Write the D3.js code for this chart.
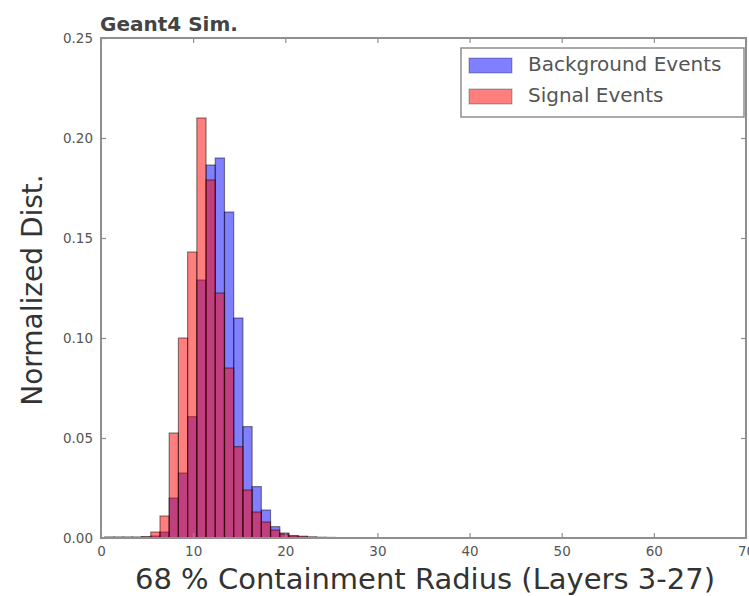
<!DOCTYPE html>
<html>
<head>
<meta charset="utf-8">
<script src="https://cdn.jsdelivr.net/npm/d3@7"></script>
<style>
  body { margin: 0; background: #fff; }
  svg { display: block; }
  text { font-family: "DejaVu Sans", sans-serif; }
</style>
</head>
<body>
<svg id="chart" width="749" height="596"></svg>
<script>
// ---- data ----
const binEdgesLeft = [0.4, 1.4, 2.4, 3.4, 4.4, 5.4, 6.4, 7.4, 8.4, 9.4, 10.4, 11.4, 12.4, 13.4, 14.4, 15.4, 16.4, 17.4, 18.4, 19.4, 20.4, 21.4, 22.4, 23.4, 24.4];
const binWidth = 1.0;
const backgroundValues = [0.0004, 0.0004, 0.0004, 0.0004, 0.0006, 0.001, 0.003, 0.020, 0.0325, 0.0607, 0.129, 0.1865, 0.190, 0.163, 0.110, 0.0557, 0.0257, 0.014, 0.0057, 0.0025, 0.001, 0.0006, 0.0003, 0.0002, 0.0001];
const signalValues     = [0.0004, 0.0004, 0.0004, 0.0004, 0.0006, 0.003, 0.011, 0.0525, 0.100, 0.143, 0.210, 0.179, 0.1225, 0.085, 0.0457, 0.024, 0.013, 0.008, 0.004, 0.002, 0.0012, 0.0009, 0.0006, 0.0004, 0.0003];
const seriesNames = ["Background Events", "Signal Events"];
const xTicks = [0, 10, 20, 30, 40, 50, 60, 70];
const yTicks = [0.00, 0.05, 0.10, 0.15, 0.20, 0.25];
const xLabel = "68 % Containment Radius (Layers 3-27)";
const yLabel = "Normalized Dist.";
const titleText = "Geant4 Sim.";

// ---- layout ----
const svg = d3.select("#chart");
const L = 101, R = 746, T = 38, B = 538;
const x = d3.scaleLinear().domain([0, 70]).range([L, R]);
const y = d3.scaleLinear().domain([0, 0.25]).range([B, T]);
const axisColor = "#8f8f8f";
const textColor = "#555";

const series = [
  { name: seriesNames[0], values: backgroundValues, color: "#0000ff" },
  { name: seriesNames[1], values: signalValues, color: "#ff0000" }
];

const plot = svg.append("g");
series.forEach(s => {
  plot.append("g").selectAll("rect")
    .data(binEdgesLeft.map((e, i) => ({ x0: e, x1: e + binWidth, v: s.values[i] })))
    .join("rect")
    .attr("x", d => x(d.x0))
    .attr("width", d => x(d.x1) - x(d.x0))
    .attr("y", d => y(d.v))
    .attr("height", d => y(0) - y(d.v))
    .attr("fill", s.color)
    .attr("fill-opacity", 0.5)
    .attr("stroke", "#000")
    .attr("stroke-opacity", 0.45)
    .attr("stroke-width", 1.2);
});

// axes (ticks inward, on all four sides)
const tickLen = 5;
const xAxisB = d3.axisBottom(x).tickValues(xTicks).tickSize(-tickLen).tickPadding(8).tickFormat(d3.format("d"));
const xAxisT = d3.axisTop(x).tickValues(xTicks).tickSize(-tickLen).tickFormat("");
const yAxisL = d3.axisLeft(y).tickValues(yTicks).tickSize(-tickLen).tickPadding(8).tickFormat(d3.format(".2f"));
const yAxisR = d3.axisRight(y).tickValues(yTicks).tickSize(-tickLen).tickFormat("");

function styleAxis(g) {
  g.select(".domain").remove();
  g.selectAll(".tick line").attr("stroke", axisColor).attr("stroke-width", 1.2);
  g.selectAll(".tick text").attr("fill", textColor).attr("font-size", 13.5)
    .attr("font-family", "DejaVu Sans, sans-serif");
}
svg.append("g").attr("transform", `translate(0,${B})`).call(xAxisB).call(styleAxis);
svg.append("g").attr("transform", `translate(0,${T})`).call(xAxisT).call(styleAxis);
svg.append("g").attr("transform", `translate(${L},0)`).call(yAxisL).call(styleAxis);
svg.append("g").attr("transform", `translate(${R},0)`).call(yAxisR).call(styleAxis);

// frame
svg.append("rect").attr("x", L).attr("y", T).attr("width", R - L).attr("height", B - T)
  .attr("fill", "none").attr("stroke", axisColor).attr("stroke-width", 2);

// labels
svg.append("text").attr("x", 425).attr("y", 589).attr("text-anchor", "middle")
  .attr("font-size", 29).attr("fill", "#333").text(xLabel);
svg.append("text").attr("transform", "translate(42,290) rotate(-90)").attr("text-anchor", "middle")
  .attr("font-size", 28).attr("fill", "#333").text(yLabel);
svg.append("text").attr("x", 100).attr("y", 31).attr("font-size", 20).attr("font-weight", "bold")
  .attr("fill", "#444").text(titleText);

// legend
const lg = svg.append("g");
lg.append("rect").attr("x", 461).attr("y", 48).attr("width", 283).attr("height", 69)
  .attr("fill", "#fff").attr("stroke", axisColor).attr("stroke-width", 1.5);
series.forEach((s, i) => {
  const yy = 58 + i * 31;
  lg.append("rect").attr("x", 469).attr("y", yy).attr("width", 43).attr("height", 15)
    .attr("fill", s.color).attr("fill-opacity", 0.5).attr("stroke", "#000").attr("stroke-opacity", 0.3);
  lg.append("text").attr("x", 528).attr("y", yy + 13).attr("font-size", 20).attr("fill", "#555").text(s.name);
});
</script>
</body>
</html>
